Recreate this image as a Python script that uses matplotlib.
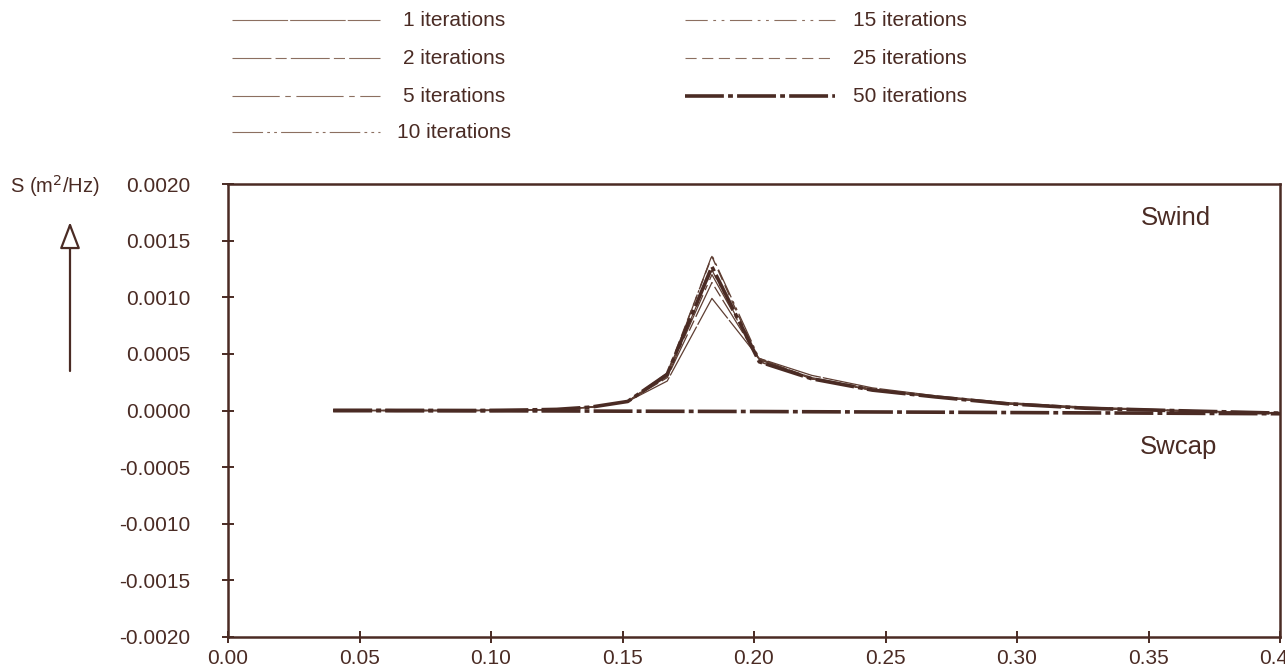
import matplotlib
matplotlib.use("Agg")
import matplotlib.pyplot as plt
from matplotlib.lines import Line2D
from matplotlib.ticker import FormatStrFormatter, MultipleLocator

plt.rcParams["font.family"] = ["Liberation Sans", "DejaVu Sans"]
plt.rcParams["axes.unicode_minus"] = False
plt.rcParams["lines.scale_dashes"] = False

INK = "#4a2b24"
THIN = "#5e3e33"

# Frequencies (Hz)
freq = [0.040, 0.044, 0.048, 0.053, 0.059, 0.064, 0.071, 0.078, 0.086, 0.094,
        0.104, 0.114, 0.125, 0.138, 0.152, 0.167, 0.184, 0.202, 0.222, 0.245,
        0.269, 0.296, 0.326, 0.358, 0.394, 0.433]

# Wind input source term (units of 1e-4 m^2/Hz) after n iterations
swind_1 = [0, 0, 0, 0, 0, 0, 0, 0, 0, 0, 0.02, 0.05, 0.1, 0.3, 0.8,
           2.6, 9.9, 4.6, 3.1, 2.0, 1.3, 0.7, 0.3, 0.05, -0.2, -0.4]
swind_2 = [0, 0, 0, 0, 0, 0, 0, 0, 0, 0, 0.02, 0.05, 0.1, 0.3, 0.8,
           2.9, 11.3, 4.5, 2.9, 1.9, 1.2, 0.6, 0.2, 0.0, -0.2, -0.4]
swind_5 = [0, 0, 0, 0, 0, 0, 0, 0, 0, 0, 0.02, 0.05, 0.1, 0.3, 0.8,
           3.0, 12.0, 4.5, 2.8, 1.8, 1.2, 0.6, 0.2, 0.0, -0.2, -0.4]
swind_10 = [0, 0, 0, 0, 0, 0, 0, 0, 0, 0, 0.02, 0.05, 0.1, 0.3, 0.8,
            3.1, 13.7, 4.6, 2.8, 1.8, 1.2, 0.6, 0.2, 0.0, -0.2, -0.4]
swind_15 = [0, 0, 0, 0, 0, 0, 0, 0, 0, 0, 0.02, 0.05, 0.1, 0.3, 0.8,
            3.2, 12.4, 4.4, 2.8, 1.8, 1.2, 0.6, 0.2, 0.0, -0.2, -0.4]
swind_25 = [0, 0, 0, 0, 0, 0, 0, 0, 0, 0, 0.02, 0.05, 0.1, 0.3, 0.8,
            3.3, 13.6, 4.3, 2.8, 1.8, 1.2, 0.6, 0.2, 0.0, -0.2, -0.4]
swind_50 = [0, 0, 0, 0, 0, 0, 0, 0, 0, 0, 0.02, 0.05, 0.1, 0.3, 0.8,
            3.2, 12.7, 4.3, 2.8, 1.8, 1.2, 0.6, 0.2, 0.0, -0.2, -0.4]

# Whitecapping dissipation term (units of 1e-4 m^2/Hz)
swcap = [0, 0, 0, 0, 0, -0.01, -0.01, -0.015, -0.02, -0.025, -0.03, -0.035,
         -0.04, -0.05, -0.06, -0.07, -0.08, -0.09, -0.11, -0.13, -0.15, -0.18,
         -0.21, -0.24, -0.28, -0.32]

labels = ["1 iterations", "2 iterations", "5 iterations", "10 iterations",
          "15 iterations", "25 iterations", "50 iterations"]
series = [swind_1, swind_2, swind_5, swind_10, swind_15, swind_25, swind_50]

styles = [
    dict(color=THIN, lw=0.9, dashes=(40, 1.5)),
    dict(color=THIN, lw=0.9, dashes=(28, 3, 8, 3)),
    dict(color=THIN, lw=0.9, dashes=(34, 4, 4, 4)),
    dict(color=THIN, lw=0.9, dashes=(22, 3, 2, 3, 2, 3)),
    dict(color=THIN, lw=0.9, dashes=(16, 4, 2, 4, 2, 4)),
    dict(color=THIN, lw=1.0, dashes=(8, 4)),
    dict(color=INK, lw=2.6, dashes=(28, 3, 3.5, 3)),
]

W, H = 1285, 669
fig = plt.figure(figsize=(W / 100, H / 100), dpi=100)
ax = fig.add_axes([228 / W, (H - 637) / H, (1280 - 228) / W, (637 - 184) / H])

scale = 1e-4
for vals, st in zip(series, styles):
    ax.plot(freq, [v * scale for v in vals], solid_capstyle="butt",
            dash_capstyle="butt", **st)
ax.plot(freq, [v * scale for v in swcap], **styles[-1])

ax.set_xlim(0.0, 0.40)
ax.set_ylim(-0.0020, 0.0020)
ax.xaxis.set_major_locator(MultipleLocator(0.05))
ax.yaxis.set_major_locator(MultipleLocator(0.0005))
ax.xaxis.set_major_formatter(FormatStrFormatter("%.2f"))
ax.yaxis.set_major_formatter(FormatStrFormatter("%.4f"))

for sp in ax.spines.values():
    sp.set_color(INK)
    sp.set_linewidth(1.8)
ax.tick_params(axis="both", direction="inout", length=9, width=1.4,
               colors=INK, labelsize=15, labelcolor=INK)
ax.tick_params(axis="y", pad=22.5)
ax.tick_params(axis="x", pad=4)
ax.tick_params(top=False, right=False)

ax.text(0.3605, 0.0017, "Swind", fontsize=18.5, color=INK, ha="center", va="center")
ax.text(0.3615, -0.00032, "Swcap", fontsize=18.5, color=INK, ha="center", va="center")

# Legend in two columns above the plot
rows = [20, 58, 96, 132]
entries = [(232, 380, 403, rows[0]), (232, 380, 403, rows[1]),
           (232, 380, 403, rows[2]), (232, 380, 397, rows[3]),
           (685, 835, 853, rows[0]), (685, 835, 853, rows[1]),
           (685, 835, 853, rows[2])]
for (x0, x1, xt, yp), lab, st in zip(entries, labels, styles):
    yf = 1 - yp / H
    lst = dict(st)
    if lst["lw"] < 2:
        lst["color"] = "#8c6f60"
        lst["lw"] = 0.8
    ln = Line2D([x0 / W, x1 / W], [yf, yf], transform=fig.transFigure, **lst)
    fig.add_artist(ln)
    fig.text(xt / W, yf, lab, fontsize=15, color=INK, ha="left", va="center")

# Y-axis quantity with an upward arrow
fig.text(55 / W, 1 - 186 / H, "S (m$^2$/Hz)", fontsize=14.5, color=INK,
         ha="center", va="center")
ax.annotate("", xy=(70, H - 222), xycoords="figure pixels",
            xytext=(70, H - 371), textcoords="figure pixels",
            arrowprops=dict(arrowstyle="-|>,head_length=1.1,head_width=0.42",
                            mutation_scale=15, fc="white", ec=INK, lw=1.6,
                            shrinkA=0, shrinkB=0))

fig.savefig("out.png", dpi=100, facecolor="white")
